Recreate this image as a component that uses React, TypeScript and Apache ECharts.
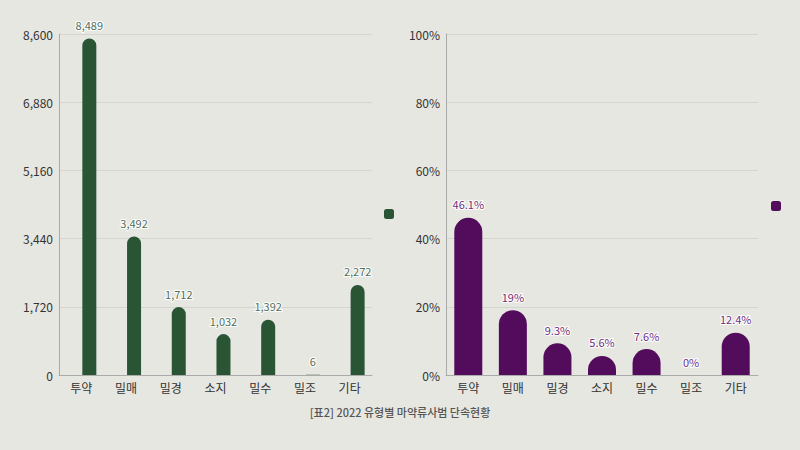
import React, { useEffect, useRef } from "react";
import * as echarts from "echarts";

const categories = ["투약", "밀매", "밀경", "소지", "밀수", "밀조", "기타"];
const counts = [8489, 3492, 1712, 1032, 1392, 6, 2272];
const shares = [46.1, 19, 9.3, 5.6, 7.6, 0, 12.4];
const countTicks = { min: 0, max: 8600, interval: 1720 };
const shareTicks = { min: 0, max: 100, interval: 20 };
const title = "[표2] 2022 유형별 마약류사범 단속현황";

const FONT = "'Noto Sans CJK KR', 'Noto Sans', sans-serif";
const GREEN = "#2a5535";
const PURPLE = "#530b5c";

export default function App() {
  const ref = useRef<HTMLDivElement>(null);
  useEffect(() => {
    if (!ref.current) return;
    const chart = echarts.init(ref.current, undefined, { renderer: "svg" });
    const axisLabel = { color: "#333", fontSize: 12, fontFamily: FONT };
    chart.setOption({
      animation: false,
      backgroundColor: "#e7e7e1",
      textStyle: { fontFamily: FONT },
      title: {
        text: title,
        left: "center",
        top: 401,
        textStyle: { color: "#555", fontSize: 11, fontWeight: 500, fontFamily: FONT },
      },
      legend: [
        {
          data: ["단속 건수"],
          left: 384,
          top: 209,
          padding: 0,
          itemWidth: 10,
          itemHeight: 10,
          icon: "roundRect",
          formatter: () => "",
        },
        {
          data: ["비율"],
          left: 771,
          top: 201,
          padding: 0,
          itemWidth: 10,
          itemHeight: 10,
          icon: "roundRect",
          formatter: () => "",
        },
      ],
      grid: [
        { left: 59, right: 428, top: 34, bottom: 75 },
        { left: 446, right: 42, top: 34, bottom: 75 },
      ],
      xAxis: [0, 1].map((i) => ({
        type: "category",
        gridIndex: i,
        data: categories,
        axisLine: { show: true, lineStyle: { color: "#aaa" } },
        axisTick: { show: false },
        axisLabel: { ...axisLabel, margin: 6 },
      })),
      yAxis: [
        {
          type: "value",
          gridIndex: 0,
          ...countTicks,
          axisLine: { show: true, lineStyle: { color: "#aaa" } },
          axisTick: { show: false },
          splitLine: { lineStyle: { color: "#d6d6d0" } },
          axisLabel: { ...axisLabel, margin: 6, formatter: (v: number) => v.toLocaleString("en-US") },
        },
        {
          type: "value",
          gridIndex: 1,
          ...shareTicks,
          axisLine: { show: true, lineStyle: { color: "#aaa" } },
          axisTick: { show: false },
          splitLine: { lineStyle: { color: "#d6d6d0" } },
          axisLabel: { ...axisLabel, margin: 6, formatter: "{value}%" },
        },
      ],
      series: [
        {
          name: "_spacer",
          type: "bar",
          xAxisIndex: 0,
          yAxisIndex: 0,
          data: categories.map(() => null),
          barWidth: 14,
          barGap: "14%",
          silent: true,
        },
        {
          name: "단속 건수",
          type: "bar",
          xAxisIndex: 0,
          yAxisIndex: 0,
          data: counts,
          barWidth: 14,
          barGap: "14%",
          itemStyle: { color: GREEN, borderRadius: [7, 7, 0, 0] },
          label: {
            show: true,
            position: "top",
            distance: 8,
            color: "#4f6e5a",
            fontSize: 11,
            fontFamily: FONT,
            textBorderColor: "#fff",
            textBorderWidth: 2,
            formatter: (p: any) => Number(p.value).toLocaleString("en-US"),
          },
        },
        {
          name: "비율",
          type: "bar",
          xAxisIndex: 1,
          yAxisIndex: 1,
          data: shares,
          barWidth: 28,
          itemStyle: { color: PURPLE, borderRadius: [14, 14, 0, 0] },
          label: {
            show: true,
            position: "top",
            distance: 8,
            color: "#6e2e7c",
            fontSize: 11,
            fontFamily: FONT,
            textBorderColor: "#fff",
            textBorderWidth: 2,
            formatter: (p: any) => `${p.value}%`,
          },
        },
      ],
    });
    return () => chart.dispose();
  }, []);
  return (
    <div
      ref={ref}
      style={{ position: "fixed", left: 0, top: 0, width: 800, height: 450 }}
    />
  );
}
